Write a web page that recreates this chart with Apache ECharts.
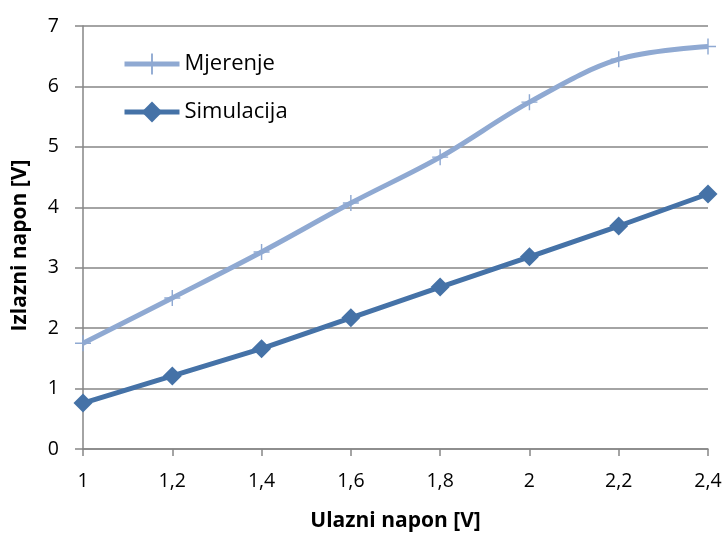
<!DOCTYPE html>
<html><head><meta charset="utf-8">
<script src="https://cdn.jsdelivr.net/npm/echarts@6/dist/echarts.min.js"></script>
<style>html,body{margin:0;padding:0;background:#fff}#c{width:728px;height:536px}</style>
</head><body><div id="c"></div>
<script>
const xValues = [1.0, 1.2, 1.4, 1.6, 1.8, 2.0, 2.2, 2.4];
const mjerenje = [1.75, 2.5, 3.26, 4.07, 4.83, 5.74, 6.45, 6.66];
const simulacija = [0.76, 1.21, 1.66, 2.17, 2.68, 3.18, 3.69, 4.22];
const seriesNames = ['Mjerenje', 'Simulacija'];
const xTitle = 'Ulazni napon [V]';
const yTitle = 'Izlazni napon [V]';

const FONT = '"Open Sans", Lato, sans-serif';
const plusPath = 'path://M-0.09,-1 L0.09,-1 L0.09,-0.09 L1,-0.09 L1,0.09 L0.09,0.09 L0.09,1 L-0.09,1 L-0.09,0.09 L-1,0.09 L-1,-0.09 L-0.09,-0.09 Z';
const fmt = v => { const s = (Math.round(v*10)/10).toString(); return s.replace('.', ','); };

const chart = echarts.init(document.getElementById('c'), null, {renderer:'canvas'});
chart.setOption({
  animation: false,
  backgroundColor: '#fff',
  grid: {left: 83, right: 20, top: 26, bottom: 87, outerBoundsMode: 'none', containLabel: false},
  legend: {
    orient: 'vertical', left: 117, top: 47, itemGap: 24, itemWidth: 55, itemHeight: 26,
    lineStyle: {width: 5},
    textStyle: {fontFamily: FONT, fontSize: 22, lineHeight: 24, color: '#000'},
    data: seriesNames
  },
  xAxis: {
    type: 'value', min: 1, max: 2.4, interval: 0.2,
    name: xTitle, nameLocation: 'middle', nameGap: 62,
    nameTextStyle: {fontFamily: FONT, fontSize: 21, fontWeight: 'bold', color: '#000'},
    axisLine: {show: true, lineStyle: {color: '#868686', width: 1.5}},
    axisTick: {show: true, inside: false, length: 7, lineStyle: {color: '#868686', width: 1.5}},
    axisLabel: {fontFamily: FONT, fontSize: 19.5, color: '#000', margin: 22, formatter: fmt},
    splitLine: {show: false}
  },
  yAxis: {
    type: 'value', min: 0, max: 7, interval: 1,
    name: yTitle, nameLocation: 'middle', nameGap: 52, nameRotate: 90,
    nameTextStyle: {fontFamily: FONT, fontSize: 21, fontWeight: 'bold', color: '#000', padding: [0, 16, 0, 0]},
    axisLine: {show: true, lineStyle: {color: '#868686', width: 1.5}},
    axisTick: {show: true, inside: false, length: 8, lineStyle: {color: '#868686', width: 1.5}},
    axisLabel: {fontFamily: FONT, fontSize: 19.5, color: '#000', margin: 24},
    splitLine: {show: true, lineStyle: {color: '#868686', width: 1.5}}
  },
  series: [
    {
      name: seriesNames[0], type: 'line', smooth: 0.35,
      data: xValues.map((x, i) => [x, mjerenje[i]]),
      symbol: plusPath, symbolSize: 16,
      lineStyle: {color: '#8FA9D2', width: 5},
      itemStyle: {color: '#8FA9D2'},
      z: 2
    },
    {
      name: seriesNames[1], type: 'line', smooth: false,
      data: xValues.map((x, i) => [x, simulacija[i]]),
      symbol: 'diamond', symbolSize: 19,
      lineStyle: {color: '#4572A7', width: 5},
      itemStyle: {color: '#4572A7'},
      z: 3
    }
  ]
});
</script></body></html>
